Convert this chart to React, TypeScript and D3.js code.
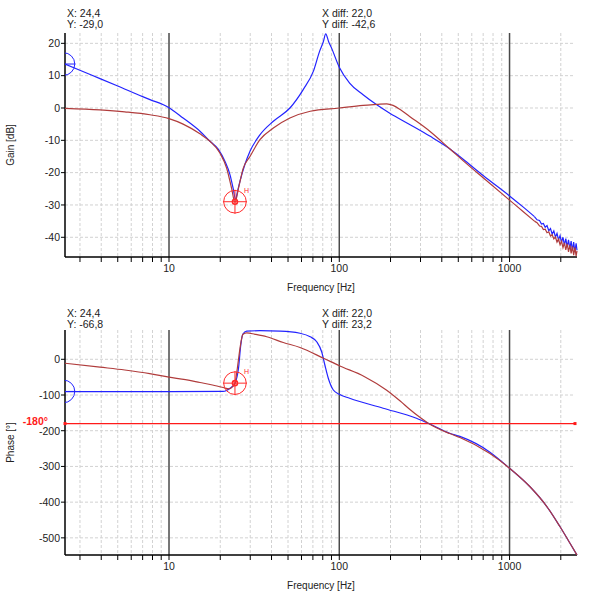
import React from 'react';
import * as d3 from 'd3';

const W = 605;
const H = 596;
const FREQ_MIN = 2.45;
const FREQ_MAX = 2490;
const X0 = 65;
const X1 = 577;
const GRID_END = 575;

const decadeTicks = [10, 100, 1000];
const decadeLabels = ['10', '100', '1000'];
const minorFreqs = [3, 4, 5, 6, 7, 8, 9, 20, 30, 40, 50, 60, 70, 80, 90, 200, 300, 400, 500, 600, 700, 800, 900, 2000];
const gainTicks = [20, 10, 0, -10, -20, -30, -40];
const phaseTicks = [0, -100, -200, -300, -400, -500];

// Gain, blue (smooth part)
const gainBlueF = [2.45, 3.5, 5, 7, 7.73, 10, 12.1, 15.2, 17.4, 19.5, 21.3, 22.8, 23.8, 24.6, 25.3, 26.1, 27.9, 29.9, 34.2, 41.0, 51.3, 61.4, 70.5, 76.7, 80.5, 83.3, 86.5, 90, 100, 115, 138, 166, 198, 259, 340, 445, 550, 700, 1000, 1200, 1400];
const gainBlueDb = [13.6, 10.2, 6.8, 3.5, 2.6, 0.1, -3.1, -7.2, -10.3, -12.8, -16.5, -20.6, -24.8, -28.3, -25.6, -22.7, -17.5, -13.4, -8.3, -4.1, 0, 5.7, 11.4, 17.6, 20.4, 22.9, 20.6, 18.6, 12.6, 7.7, 4.1, 1.0, -1.6, -5.1, -8.7, -12.6, -16.4, -20.9, -27.2, -30.6, -33.6];
// Gain, blue (noisy tail)
const gainBlueTailF = [1400, 1450, 1500, 1540, 1580, 1620, 1660, 1700, 1740, 1780, 1820, 1860, 1900, 1940, 1980, 2020, 2060, 2100, 2140, 2180, 2220, 2260, 2300, 2340, 2380, 2420, 2460, 2490];
const gainBlueTailDb = [-33.6, -34.6, -34.8, -35.9, -35.7, -36.9, -36.4, -38.0, -37.3, -39.0, -38.0, -39.9, -38.8, -40.8, -39.5, -41.6, -40.0, -42.4, -40.4, -43.0, -40.8, -43.6, -41.2, -44.1, -41.5, -44.6, -41.9, -44.0];

// Gain, red (smooth part)
const gainRedF = [2.45, 3.93, 5.5, 7.73, 10, 12.1, 15.2, 17.4, 19.9, 21.8, 23.3, 24.4, 25.6, 27.3, 29.9, 34.2, 41.0, 51.3, 67.5, 100, 138, 166, 190, 207, 230, 259, 340, 445, 550, 700, 1000, 1200, 1400];
const gainRedDb = [-0.1, -0.6, -1.2, -2.1, -3.3, -5.0, -8.0, -10.3, -13.9, -18.6, -24.8, -29.2, -24.8, -18.6, -15.0, -9.8, -6.2, -3.1, -1.0, 0, 0.8, 1.1, 1.3, 0.8, -0.6, -2.6, -7.2, -12.6, -16.9, -21.6, -28.5, -32.0, -35.0];
// Gain, red (noisy tail)
const gainRedTailF = [1400, 1450, 1500, 1540, 1580, 1620, 1660, 1700, 1740, 1780, 1820, 1860, 1900, 1940, 1980, 2020, 2060, 2100, 2140, 2180, 2220, 2260, 2300, 2340, 2380, 2420, 2460, 2490];
const gainRedTailDb = [-35.0, -35.5, -36.5, -36.6, -37.6, -37.5, -38.6, -38.3, -39.6, -39.2, -40.5, -39.9, -41.5, -40.6, -42.3, -41.2, -43.2, -41.7, -43.9, -42.0, -44.5, -42.4, -45.0, -42.8, -45.5, -43.1, -45.8, -44.2];

// Phase, blue
const phaseBlueF = [2.45, 10, 20.8, 22.8, 24.4, 25.6, 26.4, 27.1, 28.6, 34.2, 45, 58.8, 67.5, 73.7, 78.8, 82.3, 86.2, 92.3, 100, 115, 181, 284, 340, 445, 511, 767, 1000, 1319, 1660, 1980, 2265, 2490];
const phaseBlueDeg = [-90.7, -90.7, -90, -81, -67, -25, 40, 70, 79, 80, 79, 73, 63, 49, 21, -16, -53, -86, -98, -109, -137, -165, -181, -207, -216, -260, -305, -357, -413, -469, -515, -548];

// Phase, red
const phaseRedF = [2.45, 3.93, 5.5, 7.7, 10, 12.5, 15.2, 18, 20.8, 22.5, 23.5, 24.4, 25.2, 26.1, 26.7, 27.2, 28.6, 32, 37.5, 46.9, 58.8, 80.7, 100, 140, 189, 228, 259, 300, 333, 445, 511, 767, 1000, 1319, 1660, 1980, 2265, 2490];
const phaseRedDeg = [-11, -22, -30, -40, -50, -57, -65, -72, -79, -83, -78, -67, -25, 30, 58, 70, 74, 70, 63, 47, 33, 3, -18, -48, -86, -117, -140, -164, -179, -208, -219, -264, -305, -357, -413, -469, -515, -548];

const cursorF = 24.4;
const refF = 2.4;
const gainCursor = -29.0;
const gainRef = 13.6;
const phaseCursor = -66.8;
const phaseRef = -90;
const phaseLimit = -180;

const gainAnn = ['X: 24,4', 'Y: -29,0', 'X diff: 22,0', 'Y diff: -42,6'];
const phaseAnn = ['X: 24,4', 'Y: -66,8', 'X diff: 22,0', 'Y diff: 23,2'];

const FONT = '"Liberation Sans", Arial, sans-serif';
const BLUE = '#2323ff';
const RED = '#b03c3c';
const CUR = '#ff2a2a';

const zip = (a: number[], b: number[]) => a.map((v, i) => [v, b[i]] as [number, number]);

function Panel(props: any) {
  const { id, top, bottom, yDomain, yTicks, yTitle, blue, red, blueTail, redTail, cur, refPt, ann, annY, tickLabelY, titleY, limit } = props;
  const x = d3.scaleLog().domain([FREQ_MIN, FREQ_MAX]).range([X0, X1]);
  const y = d3.scaleLinear().domain(yDomain).range([bottom, top]);
  const line = d3.line<[number, number]>().x(d => x(d[0])).y(d => y(d[1])).curve(d3.curveMonotoneX);
  const lineLin = d3.line<[number, number]>().x(d => x(d[0])).y(d => y(d[1]));
  const cx = x(cur[0]);
  const cy = y(cur[1]);
  const rx = x(refPt[0]);
  const ry = y(refPt[1]);
  return (
    <g>
      <defs>
        <clipPath id={id}>
          <rect x={X0} y={top - 2} width={X1 - X0 + 2} height={bottom - top + 2} />
        </clipPath>
      </defs>
      {yTicks.map((t: number) => (
        <line key={'hy' + t} x1={X0} x2={GRID_END} y1={y(t)} y2={y(t)} stroke="#d2d2d2" strokeDasharray="3,2" />
      ))}
      {minorFreqs.map(f => (
        <line key={'vx' + f} x1={x(f)} x2={x(f)} y1={top} y2={bottom} stroke="#d2d2d2" strokeDasharray="3,2" />
      ))}
      {decadeTicks.map(f => (
        <line key={'dx' + f} x1={x(f)} x2={x(f)} y1={top} y2={bottom} stroke="#4a4a4a" strokeWidth={1.5} />
      ))}
      <line x1={X0} x2={X0} y1={top} y2={bottom} stroke="#000" strokeWidth={1.5} />
      <line x1={X0} x2={X1} y1={bottom} y2={bottom} stroke="#000" strokeWidth={1.5} />
      {[...minorFreqs, ...decadeTicks].map(f => (
        <line key={'tx' + f} x1={x(f)} x2={x(f)} y1={bottom} y2={bottom + 5} stroke="#000" />
      ))}
      {decadeTicks.map((f, i) => (
        <text key={'lx' + f} x={x(f)} y={tickLabelY} textAnchor="middle" fontSize={10.5} fontFamily={FONT} fill="#222">{decadeLabels[i]}</text>
      ))}
      {yTicks.map((t: number) => (
        <g key={'ty' + t}>
          <line x1={X0 - 4} x2={X0} y1={y(t)} y2={y(t)} stroke="#000" />
          <text x={X0 - 5} y={y(t) + 3.8} textAnchor="end" fontSize={10.5} fontFamily={FONT} fill="#222">{t}</text>
        </g>
      ))}
      <text x={(X0 + X1) / 2} y={titleY} textAnchor="middle" fontSize={10} fontFamily={FONT} fill="#222">Frequency [Hz]</text>
      <text transform={`translate(14,${(top + bottom) / 2}) rotate(-90)`} textAnchor="middle" fontSize={10} fontFamily={FONT} fill="#222">{yTitle}</text>
      {limit !== undefined && (
        <g>
          <line x1={X0} x2={GRID_END} y1={y(limit)} y2={y(limit)} stroke="#ff1a1a" strokeWidth={1.3} />
          <rect x={X0 - 1.5} y={y(limit) - 1.5} width={3} height={3} fill="#ff1a1a" />
          <rect x={GRID_END - 1.5} y={y(limit) - 1.5} width={3} height={3} fill="#ff1a1a" />
          <text x={48} y={y(limit) + 1} textAnchor="end" fontSize={10.5} fontWeight="bold" fontFamily={FONT} fill="#ff1a1a">-180°</text>
        </g>
      )}
      <g clipPath={`url(#${id})`}>
        <path d={line(blue) || ''} fill="none" stroke={BLUE} strokeWidth={1.2} />
        {blueTail && <path d={lineLin(blueTail) || ''} fill="none" stroke={BLUE} strokeWidth={1.2} />}
        <path d={line(red) || ''} fill="none" stroke={RED} strokeWidth={1.2} />
        {redTail && <path d={lineLin(redTail) || ''} fill="none" stroke={RED} strokeWidth={1.2} />}
        <circle cx={rx} cy={ry} r={11.3} fill="none" stroke={BLUE} strokeWidth={1} />
        <line x1={rx - 12} x2={rx + 12} y1={ry} y2={ry} stroke={BLUE} strokeWidth={1} />
        <circle cx={cx} cy={cy} r={11.3} fill="none" stroke={CUR} strokeWidth={1} />
        <line x1={cx - 12} x2={cx + 12} y1={cy} y2={cy} stroke={CUR} strokeWidth={1} />
        <line x1={cx} x2={cx} y1={cy - 12} y2={cy + 12} stroke={CUR} strokeWidth={1} />
        <circle cx={cx} cy={cy} r={2.5} fill="none" stroke={CUR} strokeWidth={1.6} />
        <text x={cx + 9} y={cy - 9} fontSize={7} fontFamily={FONT} fill={CUR}>H</text>
      </g>
      <text x={67} y={annY} fontSize={10.5} fontFamily={FONT} fill="#222">{ann[0]}</text>
      <text x={67} y={annY + 11} fontSize={10.5} fontFamily={FONT} fill="#222">{ann[1]}</text>
      <text x={322} y={annY} fontSize={10.5} fontFamily={FONT} fill="#222">{ann[2]}</text>
      <text x={322} y={annY + 11} fontSize={10.5} fontFamily={FONT} fill="#222">{ann[3]}</text>
    </g>
  );
}

export default function App() {
  return (
    <svg width={W} height={H} style={{ position: 'absolute', left: 0, top: 0, background: '#fff' }}>
      <rect width={W} height={H} fill="#fff" />
      <Panel
        id="clipGain"
        top={33}
        bottom={257}
        yDomain={[-46.1, 23.2]}
        yTicks={gainTicks}
        yTitle="Gain [dB]"
        blue={zip(gainBlueF, gainBlueDb)}
        red={zip(gainRedF, gainRedDb)}
        blueTail={zip(gainBlueTailF, gainBlueTailDb)}
        redTail={zip(gainRedTailF, gainRedTailDb)}
        cur={[cursorF, gainCursor]}
        refPt={[refF, gainRef]}
        ann={gainAnn}
        annY={17}
        tickLabelY={272}
        titleY={291}
      />
      <Panel
        id="clipPhase"
        top={330}
        bottom={555}
        yDomain={[-548, 82]}
        yTicks={phaseTicks}
        yTitle="Phase [°]"
        blue={zip(phaseBlueF, phaseBlueDeg)}
        red={zip(phaseRedF, phaseRedDeg)}
        cur={[cursorF, phaseCursor]}
        refPt={[refF, phaseRef]}
        ann={phaseAnn}
        annY={317}
        tickLabelY={570}
        titleY={589}
        limit={phaseLimit}
      />
    </svg>
  );
}
